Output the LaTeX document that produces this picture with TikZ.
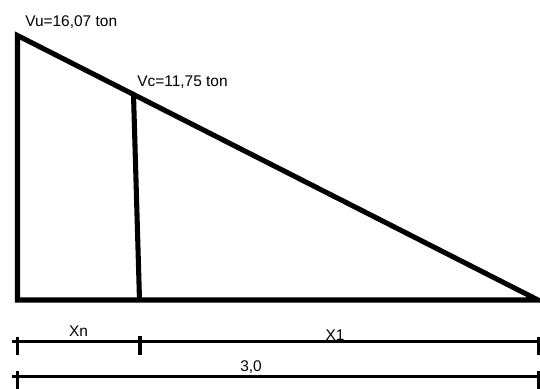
\documentclass[tikz,border=0pt]{standalone}
\usepackage{fontspec}
\setmainfont{Liberation Sans}
\begin{document}
\begin{tikzpicture}[x=0.75pt,y=-0.75pt,
  thick line/.style={line width=3.8pt, line join=miter},
  dim line/.style={line width=2.6pt},
  lbl/.style={inner sep=0pt, font=\fontsize{11.6pt}{13pt}\selectfont}]
\useasboundingbox (0,0) rectangle (540,389);
\clip (0,0) rectangle (540,389);
% triangle
\coordinate (A) at (17.5,35.5);
\coordinate (B) at (17.5,300);
\coordinate (C) at (538,300);
\coordinate (D) at (133.5,94.6);
\coordinate (E) at (139.5,300);
\draw[thick line] (A) -- (B) -- (C) -- cycle;
\draw[thick line] (D) -- (E);
% labels
\node[lbl, anchor=base west] (vu) at (25,26.7) {Vu=16,07 ton};
\node[lbl, anchor=base west] (vc) at (137,86) {Vc=11,75 ton};
% dimension line 1
\coordinate (d1s) at (12,341.5);
\coordinate (d1e) at (540,341.5);
\draw[dim line] (d1s) -- (d1e);
\coordinate (t1a) at (17.5,337); \coordinate (t1b) at (17.5,355);
\coordinate (t2a) at (140,336); \coordinate (t2b) at (140,355);
\coordinate (t3a) at (539,337); \coordinate (t3b) at (539,355);
\draw[dim line] (t1a) -- (t1b);
\draw[dim line] (t2a) -- (t2b);
\draw[dim line] (t3a) -- (t3b);
\node[lbl, anchor=base] (xn) at (78.5,336.7) {Xn};
\node[lbl, anchor=base] (x1) at (335,340) {X1};
% dimension line 2
\coordinate (d2s) at (12,376.7);
\coordinate (d2e) at (540,376.7);
\draw[dim line] (d2s) -- (d2e);
\coordinate (t4a) at (17.5,371); \coordinate (t4b) at (17.5,392);
\coordinate (t5a) at (539,371); \coordinate (t5b) at (539,392);
\draw[dim line] (t4a) -- (t4b);
\draw[dim line] (t5a) -- (t5b);
\node[lbl, anchor=base] (l30) at (251,371.7) {3,0};
\end{tikzpicture}
\end{document}
